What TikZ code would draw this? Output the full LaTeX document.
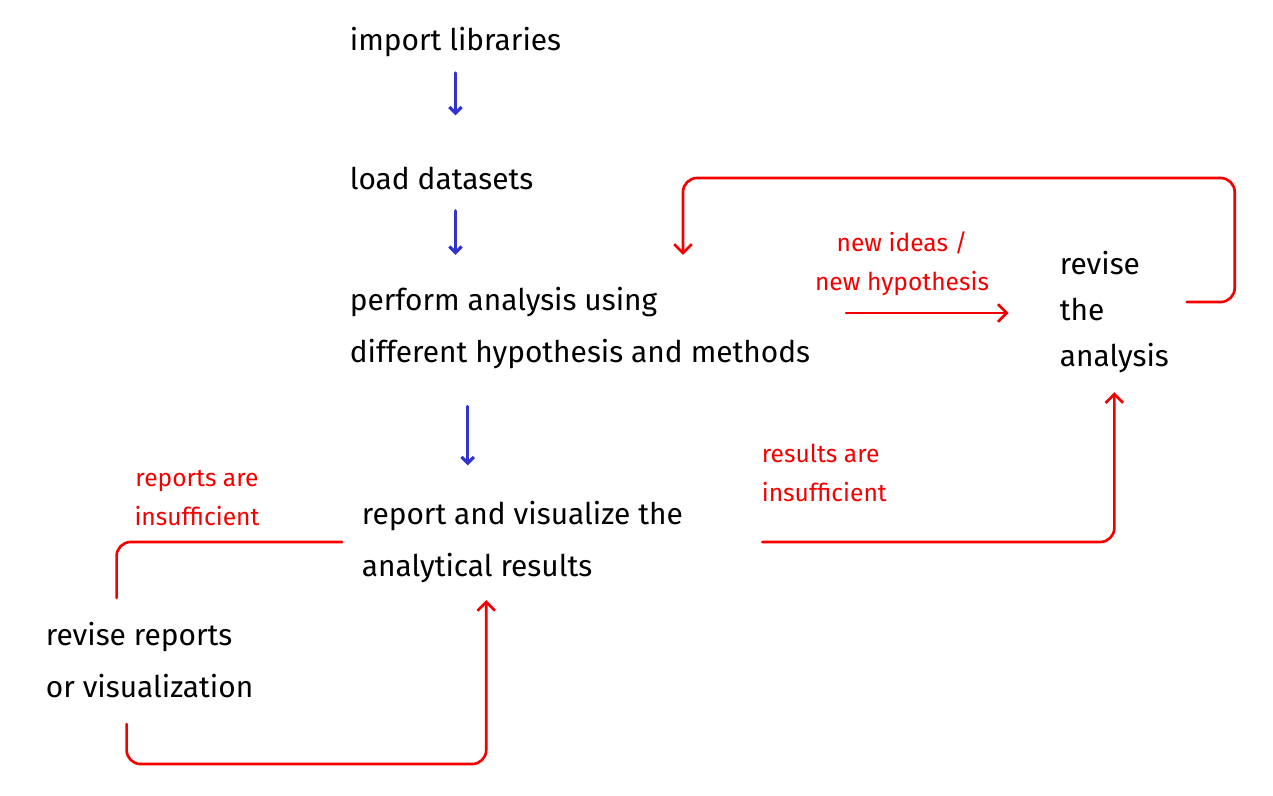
\documentclass[tikz,border=0pt]{standalone}
\usepackage{fontspec}
\setmainfont{Fira Sans}
\usetikzlibrary{calc,positioning,arrows.meta}
\definecolor{inkblue}{RGB}{50,50,205}
\definecolor{inkred}{RGB}{245,0,0}
\tikzset{
>={Straight Barb[length=5pt,width=10pt]},
}

\begin{document}
\begin{tikzpicture}[x=0.02cm, y=-0.02cm]
    \tikzset{
        stage/.style={anchor=west, align=left, inner sep=2pt, font=\fontsize{17}{30}\selectfont},
        note/.style={text=inkred, align=center, inner sep=2pt, font=\fontsize{14}{22}\selectfont},
        bluearrow/.style={draw=inkblue, line width=1.8pt, line cap=round, -{Straight Barb[length=3.5pt,width=7pt]}},
        redline/.style={draw=inkred, line width=1.5pt, line cap=round, rounded corners=8pt},
        redarrow/.style={redline, ->},
    }
    \useasboundingbox (0,0) rectangle (1273,795);

    \node[stage] (item1) at (346,42) {import libraries};
    \node[stage, below=2.72cm of item1.west, anchor=west] (item2) {load datasets};
    \node[stage, below=3cm of item2.west, anchor=west] (item3) {perform analysis using\\different hypothesis and methods};
    \node[stage] (item4) at (358,542) {report and visualize the\\analytical results};
    \node[stage] (item5) at (42,660) {revise reports\\or visualization};
    \node[stage, font=\fontsize{17}{26}\selectfont] (item6) at (1056,312) {revise\\the\\analysis};

    \node[note] (note1) at (902,264) {new ideas /\\new hypothesis};
    \node[note, anchor=west, align=left] (note2) at (758,473) {results are\\insufficient};
    \node[note] (note3) at (197,498) {reports are\\insufficient};

    % main flow
    \path[bluearrow, shorten <=7pt, shorten >=27pt] (item1.south) -- (item1.south |- item2.north);
    \path[bluearrow, shorten <=10pt, shorten >=16pt] (item2.south -| item1.south) -- (item1.south |- item3.north);
    \coordinate (AuxPerf) at ($(item3.south west)!0.26!(item3.south east)$);
    \path[bluearrow, shorten <=19pt, shorten >=18pt] (AuxPerf) -- (AuxPerf |- item4.north);

    % loops back
    \coordinate (AuxTop) at ($(item3.north west)!0.72!(item3.north east)$);
    \path[redarrow, shorten >=16pt] ($(item6.east)+(14,-10)$) -- ++(48,0) -- ++(0,-124) -| (AuxTop);
    \coordinate (AuxIdeas) at (846,313);
    \path[redarrow, shorten >=27pt] (AuxIdeas) -- (AuxIdeas -| item6.west);
    \path[redarrow, shorten <=43pt, shorten >=9pt] (item4.east) -| (item6.south);
    \path[redline, shorten <=9pt] (item4.west) -| ($(item5.north)+(-33,-20)$);
    \coordinate (AuxRep) at ($(item4.south west)!0.39!(item4.south east)+(0,13)$);
    \path[redarrow] ($(item5.south)+(-23,22)$) -- ++(0,40) -| (AuxRep);
\end{tikzpicture}
\end{document}
